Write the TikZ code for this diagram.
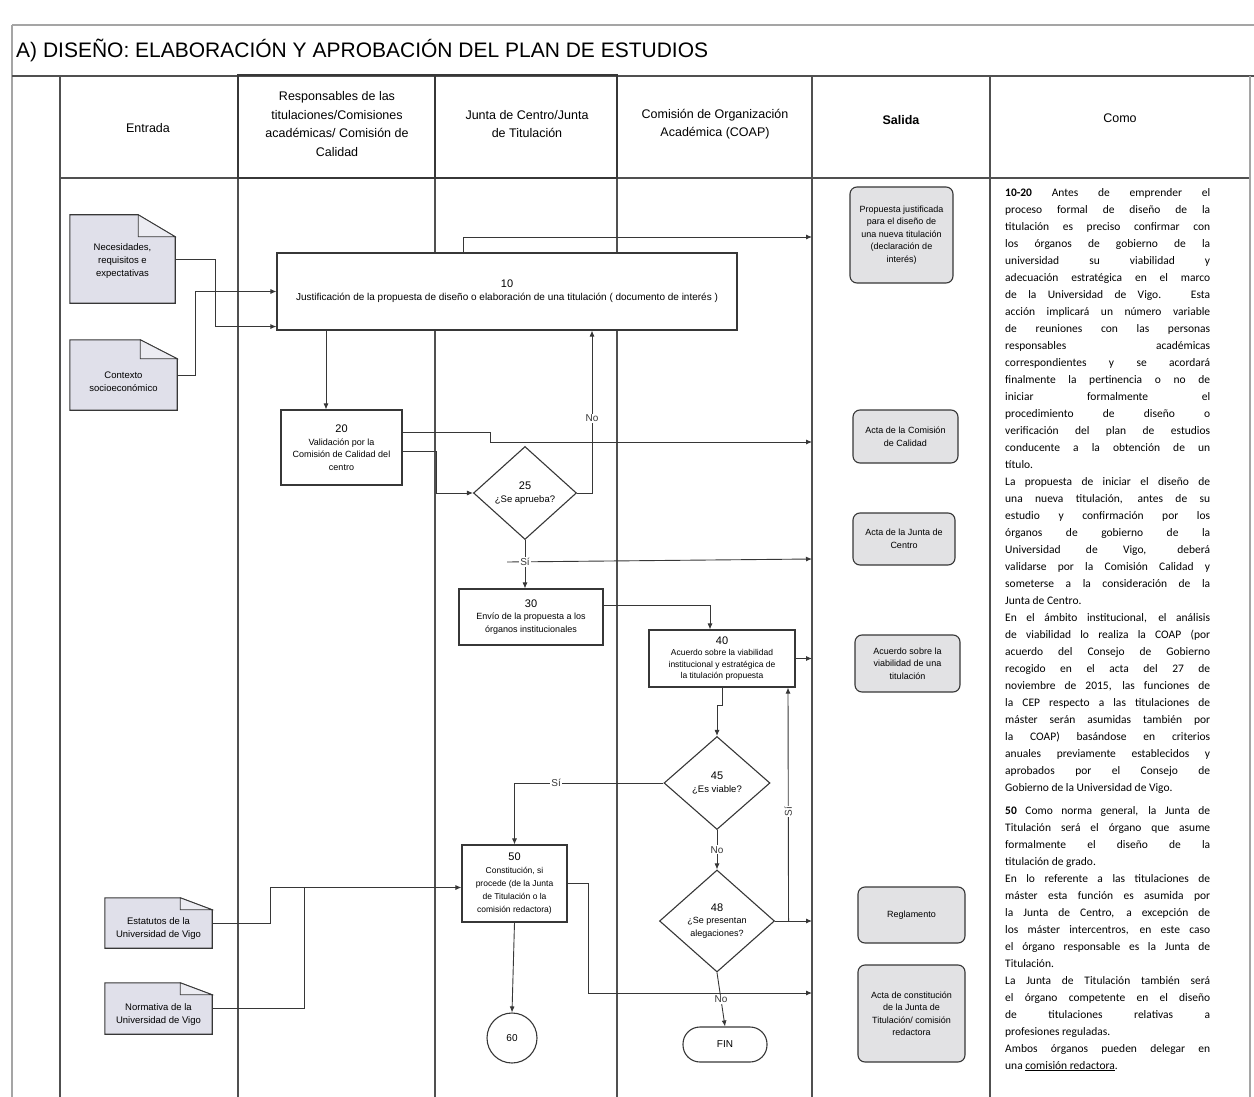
\documentclass[tikz,border=0pt]{standalone}
\usepackage{fontspec}
\setmainfont{Liberation Sans}
\newfontfamily\comofont{Carlito}
\usetikzlibrary{arrows.meta,shapes.geometric}
\definecolor{ColLine}{RGB}{55,55,55}
\definecolor{ColLane}{RGB}{80,80,80}
\definecolor{ColFrame}{RGB}{165,165,165}
\definecolor{ColDoc}{RGB}{224,224,234}
\definecolor{ColOut}{RGB}{226,226,228}
\tikzstyle{LaneLine}=[ColLane,line width=1.3pt]
\tikzstyle{FrameLine}=[ColFrame,line width=1.3pt]
\tikzstyle{HeadLine}=[ColLine,line width=2.2pt]
\tikzstyle{HeadTxt}=[align=center,font=\fontsize{12.5}{18.5}\selectfont,inner sep=0pt]
\tikzstyle{ProcBox}=[rectangle,draw=ColLine,line width=1.1pt,fill=white,align=center,
inner sep=1pt,font=\fontsize{9}{12.5}\selectfont]
\tikzstyle{DecBox}=[diamond,draw=ColLine,line width=1.1pt,fill=white,align=center,
inner sep=0pt,font=\fontsize{9.5}{13}\selectfont]
\tikzstyle{DocBox}=[rectangle,draw=none,inner sep=0pt]
\tikzstyle{DocTxt}=[align=center,inner sep=0pt,font=\fontsize{9.5}{13}\selectfont]
\tikzstyle{OutBox}=[rectangle,rounded corners=7pt,draw=ColLine,line width=1.1pt,
fill=ColOut,align=center,inner sep=1pt,font=\fontsize{9}{12.5}\selectfont]
\tikzstyle{FlowArrow}=[ColLine,line width=0.9pt,-{Latex[length=6pt,width=5pt]}]
\tikzstyle{FlowLine}=[ColLine,line width=0.9pt]
\tikzstyle{LabelTxt}=[fill=white,inner sep=1pt,font=\fontsize{10}{11}\selectfont]
\newcommand{\NumTxt}[1]{{\fontsize{11}{14}\selectfont #1}}

\begin{document}
\begin{tikzpicture}[x=1pt,y=-1pt]
  \useasboundingbox (0,0) rectangle (1254,1097);
  % frame of the table
  \draw[FrameLine] (12,25) -- (1254,25);
  \draw[FrameLine] (12,25) -- (12,1097);
  \draw[LaneLine] (12,76) -- (1254,76);
  \draw[LaneLine] (60,178) -- (1250,178);
  \draw[FrameLine] (1250,76) -- (1250,1097);
  \draw[LaneLine] (60,76) -- (60,1097);
  \draw[LaneLine] (812,76) -- (812,1097);
  \draw[LaneLine] (990,76) -- (990,1097);
  \draw[LaneLine] (238,75) -- (238,1097);
  \draw[LaneLine] (435,75) -- (435,1097);
  \draw[LaneLine] (617,75) -- (617,1097);
  \draw[HeadLine] (238,75) rectangle (617,178);
  \draw[HeadLine] (435,75) -- (435,178);
  % title and heads
  \node[anchor=west,inner sep=0pt,font=\fontsize{21}{22}\selectfont] (title) at (16,50)
    {A) DISEÑO: ELABORACIÓN Y APROBACIÓN DEL PLAN DE ESTUDIOS};
  \node[HeadTxt] (hEnt) at (148,128) {Entrada};
  \node[HeadTxt] (hRes) at (337,124) {Responsables de las\\titulaciones/Comisiones\\académicas/ Comisión de\\Calidad};
  \node[HeadTxt] (hJun) at (527,124) {Junta de Centro/Junta\\de Titulación};
  \node[HeadTxt] (hCoa) at (715,124) {Comisión de Organización\\Académica (COAP)};
  \node[HeadTxt,font=\bfseries\fontsize{12.5}{18.5}\selectfont] (hSal) at (901,120) {Salida};
  \node[HeadTxt] (hCom) at (1120,118) {Como};
  % inputs
  \node[DocBox,minimum width=105pt,minimum height=88pt] (nec) at (122.5,259) {};
  \node[DocBox,minimum width=107pt,minimum height=70pt] (ctx) at (123.5,375) {};
  \node[DocBox,minimum width=107pt,minimum height=50pt] (est) at (158.5,923) {};
  \node[DocBox,minimum width=107pt,minimum height=51pt] (nor) at (158.5,1008.5) {};
  \foreach \d/\fw/\fh in {nec/37/22,ctx/37/19,est/32/12,nor/32/12}{
    \draw[ColLine,line width=1.1pt,fill=ColDoc] (\d.south west) -- (\d.north west) -- ([xshift=-\fw pt]\d.north east)
      -- ([yshift=-\fh pt]\d.north east) -- (\d.south east) -- cycle;
    \draw[ColLine,line width=0.8pt,fill=ColDoc!60] ([xshift=-\fw pt]\d.north east) -- ([xshift=-\fw pt,yshift=-\fh pt]\d.north east)
      -- ([yshift=-\fh pt]\d.north east) -- cycle;
  }
  \node[DocTxt] (necT) at ([yshift=-2pt]nec) {Necesidades,\\requisitos e\\expectativas};
  \node[DocTxt] (ctxT) at ([yshift=-7pt]ctx) {Contexto\\socioeconómico};
  \node[DocTxt] (estT) at ([yshift=-6pt]est) {Estatutos de la\\Universidad de Vigo};
  \node[DocTxt] (norT) at ([yshift=-6pt]nor) {Normativa de la\\Universidad de Vigo};
  % process
  \node[ProcBox,minimum width=460pt,minimum height=77pt,font=\fontsize{10}{13}\selectfont] (p10) at (507,291.5)
    {\NumTxt{10}\\Justificación de la propuesta de diseño o elaboración de una titulación ( documento de interés )};
  \node[ProcBox,minimum width=121pt,minimum height=75pt] (p20) at (341.5,447.5)
    {\NumTxt{20}\\Validación por la\\Comisión de Calidad del\\centro};
  \node[DecBox,minimum width=103pt,minimum height=93pt] (d25) at (525,493) {\NumTxt{25}\\¿Se aprueba?};
  \node[ProcBox,minimum width=144pt,minimum height=56pt] (p30) at (531,617)
    {\NumTxt{30}\\Envío de la propuesta a los\\órganos institucionales};
  \node[ProcBox,minimum width=146pt,minimum height=57pt,font=\fontsize{8.5}{11.5}\selectfont] (p40) at (722,658.5)
    {\NumTxt{40}\\Acuerdo sobre la viabilidad\\institucional y estratégica de\\la titulación propuesta};
  \node[DecBox,minimum width=106pt,minimum height=93pt] (d45) at (717,783) {\NumTxt{45}\\¿Es viable?};
  \node[DecBox,minimum width=115pt,minimum height=102pt,font=\fontsize{9}{12.5}\selectfont] (d48) at (717,921)
    {\NumTxt{48}\\¿Se presentan\\alegaciones?};
  \node[ProcBox,minimum width=105pt,minimum height=77pt,font=\fontsize{8.5}{13}\selectfont] (p50) at (514.5,883.5)
    {\NumTxt{50}\\Constitución, si\\procede (de la Junta\\de Titulación o la\\comisión redactora)};
  \node[circle,draw=ColLine,line width=1.1pt,minimum size=50pt,inner sep=0pt,font=\fontsize{10}{11}\selectfont] (c60) at (512,1038) {60};
  \node[rectangle,rounded corners=17pt,draw=ColLine,line width=1.1pt,minimum width=84pt,minimum height=35pt,
    font=\fontsize{10}{11}\selectfont] (fin) at (725,1044.5) {FIN};
  % outputs
  \node[OutBox,minimum width=103pt,minimum height=96pt] (s1) at (901.5,235)
    {Propuesta justificada\\para el diseño de\\una nueva titulación\\(declaración de\\interés)};
  \node[OutBox,minimum width=105pt,minimum height=53pt] (s2) at (905.5,436.5) {Acta de la Comisión\\de Calidad};
  \node[OutBox,minimum width=102pt,minimum height=52pt] (s3) at (904,539) {Acta de la Junta de\\Centro};
  \node[OutBox,minimum width=105pt,minimum height=57pt] (s4) at (907.5,663.5) {Acuerdo sobre la\\viabilidad de una\\titulación};
  \node[OutBox,minimum width=107pt,minimum height=56pt] (s5) at (911.5,915) {Reglamento};
  \node[OutBox,minimum width=107pt,minimum height=97pt] (s6) at (911.5,1013.5)
    {Acta de constitución\\de la Junta de\\Titulación/ comisión\\redactora};
  \coordinate (S1in) at (812,237);
  \coordinate (S2in) at (812,442);
  \coordinate (S3in) at (812,559);
  \coordinate (S4in) at (812,658.5);
  \coordinate (S5in) at (812,921);
  \coordinate (S6in) at (812,993);
  \coordinate (j25) at (507,562);
  % connectors
  \draw[FlowArrow] (nec.east) -- ++(40,0) |- ([yshift=4pt]p10.south west);
  \draw[FlowArrow] (ctx.east) -- ++(18,0) |- (p10.west);
  \draw[FlowArrow] ([xshift=-44pt]p10.north) |- (S1in);
  \draw[FlowArrow] ([xshift=-15.5pt]p20.north |- p10.south) -- ([xshift=-15.5pt]p20.north);
  \draw[FlowArrow] ([yshift=15pt]p20.east) -- ++(88,0) |- (S2in);
  \draw[FlowArrow] ([yshift=-4pt]p20.east) -- ++(34,0) |- (d25.west);
  \draw[FlowArrow] (d25.east) -| node[LabelTxt,pos=0.73]{No} ([xshift=85pt]p10.south);
  \draw[FlowArrow] (j25) -- (S3in);
  \draw[FlowArrow] (d25.south) -- node[LabelTxt,pos=0.45]{Sí} (d25.south |- p30.north);
  \draw[FlowArrow] ([yshift=12pt]p30.east) -| ([xshift=-12pt]p40.north);
  \draw[FlowArrow] (p40.east) -- (S4in);
  \draw[FlowArrow] (p40.south) -- ++(0,18) -| (d45.north);
  \draw[FlowArrow] (d45.west) -| node[LabelTxt,pos=0.36]{Sí} (p50.north);
  \draw[FlowArrow] (d45.south) -- node[LabelTxt,pos=0.5]{No} (d48.north);
  \draw[FlowArrow] (d48.east) -- (S5in);
  \draw[FlowArrow] ([xshift=13.5pt]d48.east) -- node[LabelTxt,pos=0.47,rotate=90]{Sí} ([xshift=66pt]p40.south);
  \draw[FlowArrow] (p50.east) -- ++(21,0) |- (S6in);
  \draw[FlowArrow] (d48.south) -- node[LabelTxt,pos=0.5]{No} (fin.north);
  \draw[FlowArrow] (p50.south) -- (c60.north);
  \draw[FlowArrow] (est.east) -- ++(58,0) |- ([yshift=-4pt]p50.west);
  \draw[FlowLine] (nor.east) -| ([xshift=-157pt,yshift=-4pt]p50.west);
  % text of the last column
  \node[anchor=north west,inner sep=0pt] (como) at (1005,188) {\parbox{205pt}{\comofont\fontsize{11.5}{17}\selectfont
  \textbf{10-20} Antes de emprender el\linebreak
  proceso formal de diseño de la\linebreak
  titulación es preciso confirmar con\linebreak
  los órganos de gobierno de la\linebreak
  universidad su viabilidad y\linebreak
  adecuación estratégica en el marco\linebreak
  de la Universidad de Vigo. Esta\linebreak
  acción implicará un número variable\linebreak
  de reuniones con las personas\linebreak
  responsables académicas\linebreak
  correspondientes y se acordará\linebreak
  finalmente la pertinencia o no de\linebreak
  iniciar formalmente el\linebreak
  procedimiento de diseño o\linebreak
  verificación del plan de estudios\linebreak
  conducente a la obtención de un\linebreak
  título.\par
  La propuesta de iniciar el diseño de\linebreak
  una nueva titulación, antes de su\linebreak
  estudio y confirmación por los\linebreak
  órganos de gobierno de la\linebreak
  Universidad de Vigo, deberá\linebreak
  validarse por la Comisión Calidad y\linebreak
  someterse a la consideración de la\linebreak
  Junta de Centro.\par
  En el ámbito institucional, el análisis\linebreak
  de viabilidad lo realiza la COAP (por\linebreak
  acuerdo del Consejo de Gobierno\linebreak
  recogido en el acta del 27 de\linebreak
  noviembre de 2015, las funciones de\linebreak
  la CEP respecto a las titulaciones de\linebreak
  máster serán asumidas también por\linebreak
  la COAP) basándose en criterios\linebreak
  anuales previamente establecidos y\linebreak
  aprobados por el Consejo de\linebreak
  Gobierno de la Universidad de Vigo.\par
  \vspace{6pt}
  \textbf{50} Como norma general, la Junta de\linebreak
  Titulación será el órgano que asume\linebreak
  formalmente el diseño de la\linebreak
  titulación de grado.\par
  En lo referente a las titulaciones de\linebreak
  máster esta función es asumida por\linebreak
  la Junta de Centro, a excepción de\linebreak
  los máster intercentros, en este caso\linebreak
  el órgano responsable es la Junta de\linebreak
  Titulación.\par
  La Junta de Titulación también será\linebreak
  el órgano competente en el diseño\linebreak
  de titulaciones relativas a\linebreak
  profesiones reguladas.\par
  Ambos órganos pueden delegar en\linebreak
  una \underline{comisión redactora}.}};
\end{tikzpicture}
\end{document}
